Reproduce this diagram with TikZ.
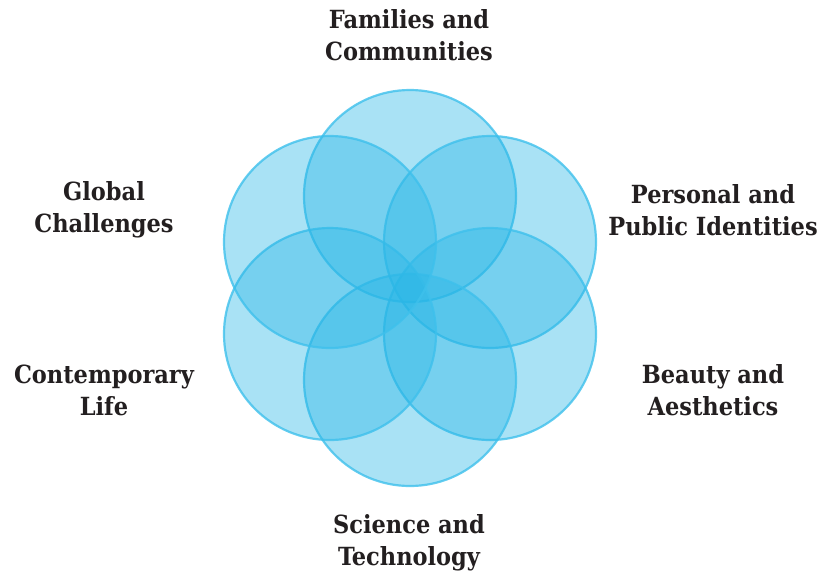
\documentclass[tikz,border=0pt]{standalone}
\usepackage{fontspec}
\setmainfont{DejaVu Serif Condensed}[BoldFont={DejaVu Serif Condensed Bold}]
\definecolor{cfill}{HTML}{29B6E6}
\definecolor{cline}{HTML}{3EC0EC}
\definecolor{txt}{HTML}{231F20}
\begin{document}
\begin{tikzpicture}[x=1pt,y=-1pt,
  petal/.style={circle,minimum size=212pt,inner sep=0pt,fill=cfill,fill opacity=0.4,draw=cline,draw opacity=0.8,line width=2.2pt},
  lbl/.style={align=center,text=txt,font=\bfseries\fontsize{25}{32}\selectfont}]
\useasboundingbox (0,0) rectangle (821,574);
\node[petal] (c1) at (410,196) {};
\node[petal] (c2) at (490,242) {};
\node[petal] (c3) at (490,334) {};
\node[petal] (c4) at (410,380) {};
\node[petal] (c5) at (330,334) {};
\node[petal] (c6) at (330,242) {};
\node[lbl] (t1) at (409,35) {Families and\\Communities};
\node[lbl] (t2) at (713,210) {Personal and\\Public Identities};
\node[lbl] (t3) at (713,390) {Beauty and\\Aesthetics};
\node[lbl] (t4) at (409,543) {Science and\\Technology};
\node[lbl] (t5) at (104,390) {Contemporary\\Life};
\node[lbl] (t6) at (104,210) {Global\\Challenges};
\end{tikzpicture}
\end{document}
